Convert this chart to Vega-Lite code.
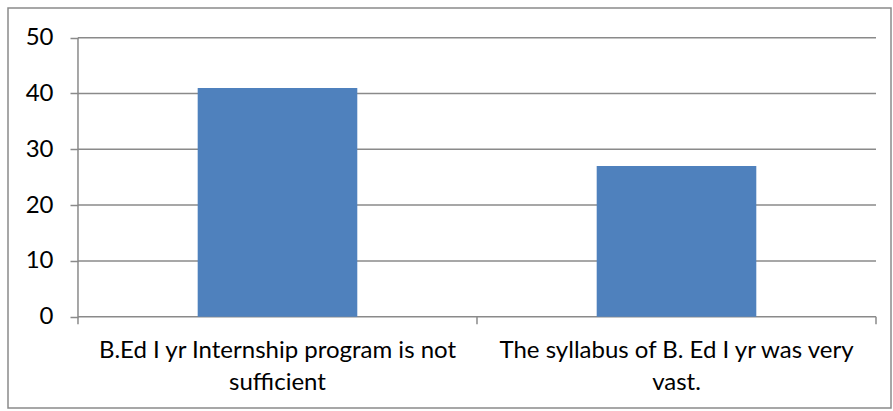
{
  "$schema": "https://vega.github.io/schema/vega-lite/v6.json",
  "width": 883,
  "height": 400,
  "autosize": {"type": "none"},
  "padding": {"left": 8, "top": 8, "right": 2, "bottom": 3},
  "background": "white",
  "config": {
    "view": {"stroke": "#8a8a8a", "strokeWidth": 1.5},
    "font": "Lato"
  },
  "layer": [
    {
      "data": {"values": [{"v": 0}, {"v": 10}, {"v": 20}, {"v": 30}, {"v": 40}, {"v": 50}]},
      "mark": {"type": "rule", "color": "#8a8a8a", "strokeWidth": 1.5},
      "encoding": {
        "y": {"field": "v", "type": "quantitative"},
        "x": {"datum": "B.Ed I yr Internship program is not sufficient", "bandPosition": 0},
        "x2": {"datum": "The syllabus of B. Ed I yr was very vast.", "bandPosition": 1}
      }
    },
    {
      "data": {"values": [{"label": "B.Ed I yr Internship program is not sufficient", "value": 41}, {"label": "The syllabus of B. Ed I yr was very vast.", "value": 27}]},
      "mark": {"type": "bar", "color": "#4F81BD", "width": {"band": 0.4}},
      "encoding": {
        "x": {
          "field": "label",
          "type": "nominal",
          "sort": null,
          "scale": {"paddingInner": 0, "paddingOuter": 0.1065, "align": 0.8235},
          "axis": {
            "title": null,
            "ticks": false,
            "domain": false,
            "offset": -91.3,
            "labelAngle": 0,
            "labelAlign": "center",
            "labelBaseline": "top",
            "labelPadding": 22,
            "labelFontSize": 24,
            "labelColor": "black",
            "labelLineHeight": 32,
            "labelLimit": 1000,
            "labelExpr": "datum.value == 'B.Ed I yr Internship program is not sufficient' ? ['B.Ed I yr Internship program is not', 'sufficient'] : ['The syllabus of B. Ed I yr was very', 'vast.']"
          }
        },
        "y": {
          "field": "value",
          "type": "quantitative",
          "scale": {"domain": [-16.36, 55.32], "nice": false, "zero": false},
          "axis": {
            "title": null,
            "grid": false,
            "domain": false,
            "values": [0, 10, 20, 30, 40, 50],
            "offset": -70,
            "tickSize": 8,
            "tickColor": "#8a8a8a",
            "tickWidth": 1.5,
            "labelFontSize": 24,
            "labelColor": "black",
            "labelPadding": 17
          }
        },
        "y2": {"datum": 0}
      }
    },
    {
      "data": {"values": [{}]},
      "mark": {"type": "rule", "color": "#8a8a8a", "strokeWidth": 1.5},
      "encoding": {
        "x": {"datum": "B.Ed I yr Internship program is not sufficient", "bandPosition": 0},
        "y": {"datum": 50},
        "y2": {"datum": -1.35}
      }
    },
    {
      "data": {"values": [{}]},
      "mark": {"type": "rule", "color": "#8a8a8a", "strokeWidth": 1.5},
      "encoding": {
        "x": {"datum": "The syllabus of B. Ed I yr was very vast.", "bandPosition": 0},
        "y": {"datum": 0},
        "y2": {"datum": -1.35}
      }
    },
    {
      "data": {"values": [{}]},
      "mark": {"type": "rule", "color": "#8a8a8a", "strokeWidth": 1.5},
      "encoding": {
        "x": {"datum": "The syllabus of B. Ed I yr was very vast.", "bandPosition": 1},
        "y": {"datum": 0},
        "y2": {"datum": -1.35}
      }
    }
  ]
}
